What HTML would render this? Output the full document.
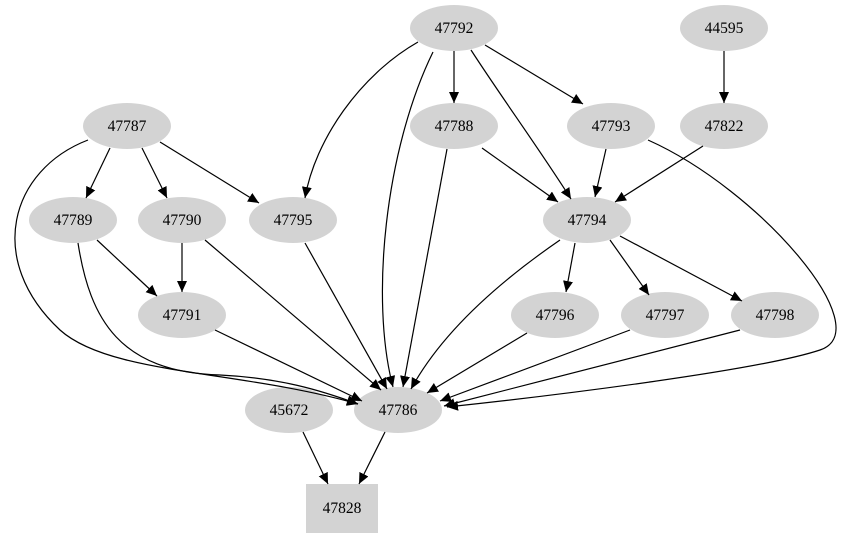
<!DOCTYPE html>
<html><head><meta charset="utf-8"><style>
html,body{margin:0;padding:0;background:#fff;}
svg{display:block;}
text{font-family:"Liberation Serif",serif;font-size:15.5px;text-anchor:middle;fill:#000;}
</style></head><body>
<svg width="845" height="539" viewBox="0 0 845 539" xmlns="http://www.w3.org/2000/svg">
<defs>
<marker id="a" markerUnits="userSpaceOnUse" markerWidth="13" markerHeight="12" refX="11" refY="5" orient="auto">
<path d="M0,0 L11,5 L0,10 z" fill="#000"/>
</marker>
</defs>
<g fill="#d3d3d3" stroke="none">
<ellipse cx="454" cy="28" rx="44" ry="23"/>
<ellipse cx="724" cy="28" rx="44" ry="23"/>
<ellipse cx="127" cy="126" rx="44" ry="23"/>
<ellipse cx="454" cy="126" rx="44" ry="23"/>
<ellipse cx="611" cy="126" rx="44" ry="23"/>
<ellipse cx="724" cy="126" rx="44" ry="23"/>
<ellipse cx="73" cy="220" rx="44" ry="23"/>
<ellipse cx="182" cy="220" rx="44" ry="23"/>
<ellipse cx="293" cy="220" rx="44" ry="23"/>
<ellipse cx="587" cy="220" rx="44" ry="23"/>
<ellipse cx="182" cy="315" rx="44" ry="23"/>
<ellipse cx="555" cy="315" rx="44" ry="23"/>
<ellipse cx="665" cy="315" rx="44" ry="23"/>
<ellipse cx="775" cy="315" rx="44" ry="23"/>
<ellipse cx="289" cy="410" rx="44" ry="23"/>
<ellipse cx="398" cy="410" rx="44" ry="23"/>
<rect x="306" y="484" width="72" height="49"/>
</g>
<g fill="none" stroke="#000" stroke-width="1.2" marker-end="url(#a)">
<path d="M454,51 L454,103"/>
<path d="M485,45 L583,104"/>
<path d="M471,50 C500,95 540,150 571,199"/>
<path d="M418,42 C360,75 315,140 305,198"/>
<path d="M433,52 C385,150 370,300 393,387"/>
<path d="M724,51 L724,103"/>
<path d="M110,148 L86,198"/>
<path d="M142,148 L167,198"/>
<path d="M160,142 L259,203"/>
<path d="M88,140 C10,170 -15,260 60,330 C110,375 240,370 358,404"/>
<path d="M482,148 L558,202"/>
<path d="M447,149 L403,387"/>
<path d="M606,149 L595,197"/>
<path d="M648,140 C760,190 880,330 820,350 C760,370 560,395 447,407"/>
<path d="M703,146 L615,202"/>
<path d="M97,240 L157,296"/>
<path d="M78,243 C90,320 120,372 220,375 C280,378 320,390 358,404"/>
<path d="M182,243 L182,292"/>
<path d="M205,240 L381,390"/>
<path d="M305,243 L387,389"/>
<path d="M560,240 C480,295 435,345 411,389"/>
<path d="M575,243 L566,292"/>
<path d="M610,240 L649,295"/>
<path d="M620,236 L742,301"/>
<path d="M215,330 L362,401"/>
<path d="M527,333 L427,393"/>
<path d="M630,330 L440,401"/>
<path d="M740,330 L444,406"/>
<path d="M303,432 L328,484"/>
<path d="M385,432 L359,484"/>
</g>
<g>
<text x="454" y="33">47792</text>
<text x="724" y="33">44595</text>
<text x="127" y="131">47787</text>
<text x="454" y="131">47788</text>
<text x="611" y="131">47793</text>
<text x="724" y="131">47822</text>
<text x="73" y="225">47789</text>
<text x="182" y="225">47790</text>
<text x="293" y="225">47795</text>
<text x="587" y="225">47794</text>
<text x="182" y="320">47791</text>
<text x="555" y="320">47796</text>
<text x="665" y="320">47797</text>
<text x="775" y="320">47798</text>
<text x="289" y="415">45672</text>
<text x="398" y="415">47786</text>
<text x="342" y="513">47828</text>
</g>
</svg>
</body></html>
